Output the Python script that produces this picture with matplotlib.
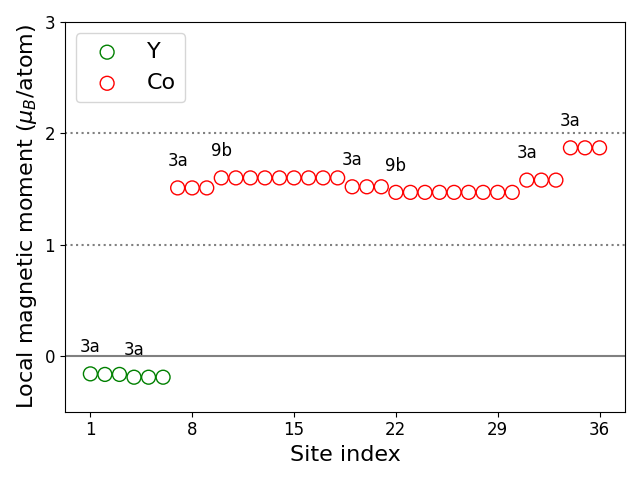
import numpy as np
import matplotlib.pyplot as plt

y_sites = [1, 2, 3, 4, 5, 6]
y_moments = [-0.16, -0.165, -0.165, -0.19, -0.19, -0.19]

co_sites = list(range(7, 37))
co_moments = ([1.51] * 3 + [1.60] * 9 + [1.52] * 3 + [1.47] * 9
              + [1.58] * 3 + [1.87] * 3)

label_sites = [1, 4, 7, 10, 19, 22, 31, 34]
label_moments = [-0.16, -0.19, 1.51, 1.60, 1.52, 1.47, 1.58, 1.87]
label_texts = ['3a', '3a', '3a', '9b', '3a', '9b', '3a', '3a']

fig, ax = plt.subplots(figsize=(6.4, 4.8), dpi=100)

ax.axhline(0, color='gray', linestyle='-')
ax.axhline(1, color='gray', linestyle=':')
ax.axhline(2, color='gray', linestyle=':')

ax.scatter(y_sites, y_moments, s=100, facecolors='none', edgecolors='green', label='Y')
ax.scatter(co_sites, co_moments, s=100, facecolors='none', edgecolors='red', label='Co')

for xs, ys, t in zip(label_sites, label_moments, label_texts):
    ax.text(xs, ys + 0.24, t, ha='center', va='center', fontsize=12)

ax.set_ylim(-0.5, 3)
ax.set_yticks([0, 1, 2, 3])
ax.set_xticks([1, 8, 15, 22, 29, 36])
ax.tick_params(labelsize=12)
ax.set_xlabel('Site index', fontsize=16)
ax.set_ylabel(r'Local magnetic moment ($\mu_B$/atom)', fontsize=16)
ax.legend(loc='upper left', fontsize=16)

plt.tight_layout()
plt.savefig('out.png')
